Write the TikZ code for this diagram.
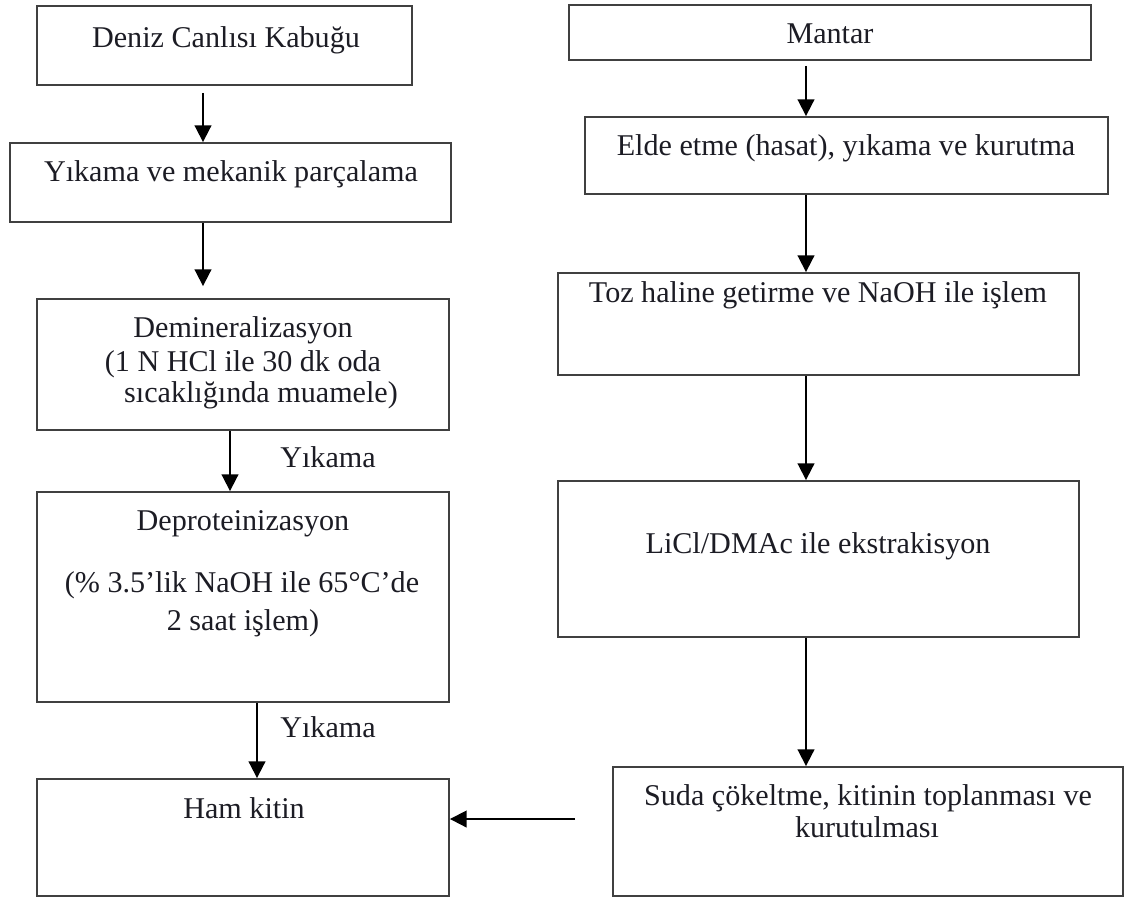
\documentclass[tikz,border=0pt]{standalone}
\usepackage{fontspec}
\setmainfont{Liberation Serif}
\usetikzlibrary{arrows.meta,fit}
\definecolor{edge}{RGB}{64,64,64}
\definecolor{ink}{RGB}{28,28,36}
\begin{document}
\begin{tikzpicture}[x=0.75pt,y=-0.75pt,
  box/.style={draw=edge,line width=1.4pt,inner sep=0pt,fit={#1}},
  txt/.style={anchor=base,inner sep=0pt,text=ink,font=\fontsize{22.6}{26}\selectfont},
  arr/.style={draw=black,line width=1.4pt,-{Triangle[width=12.5pt,length=12.5pt]}}]
\useasboundingbox (0,0) rectangle (1130,897);
% left column boxes
\node[box={(37,6) (412,85)}] (b1) {};
\node[box={(10,143) (451,222)}] (b2) {};
\node[box={(37,299) (449,430)}] (b3) {};
\node[box={(37,492) (449,702)}] (b4) {};
\node[box={(37,779) (449,896)}] (b5) {};
% right column boxes
\node[box={(569,5) (1091,60)}] (r1) {};
\node[box={(585,117) (1108,194)}] (r2) {};
\node[box={(558,273) (1079,375)}] (r3) {};
\node[box={(558,481) (1079,637)}] (r4) {};
\node[box={(613,767) (1123,896)}] (r5) {};
% texts
\node[txt] (t1) at (226,47) {Deniz Canlısı Kabuğu};
\node[txt] (t2) at (231,181) {Yıkama ve mekanik parçalama};
\node[txt] (t3a) at (243,337) {Demineralizasyon};
\node[txt] (t3b) at (243,371) {(1 N HCl ile 30 dk oda};
\node[txt] (t3c) at (261,402) {sıcaklığında muamele)};
\node[txt] (t4a) at (243,530) {Deproteinizasyon};
\node[txt] (t4b) at (242,592) {(\% 3.5’lik NaOH ile 65°C’de};
\node[txt] (t4c) at (243,630) {2 saat işlem)};
\node[txt] (t5) at (244,818) {Ham kitin};
\node[txt] (y1) at (328,467) {Yıkama};
\node[txt] (y2) at (328,737) {Yıkama};
\node[txt] (s1) at (830,43) {Mantar};
\node[txt] (s2) at (846,155) {Elde etme (hasat), yıkama ve kurutma};
\node[txt] (s3) at (818,302) {Toz haline getirme ve NaOH ile işlem};
\node[txt] (s4) at (818,553) {LiCl/DMAc ile ekstrakisyon};
\node[txt] (s5a) at (868,805) {Suda çökeltme, kitinin toplanması ve};
\node[txt] (s5b) at (867,837) {kurutulması};
% arrow columns
\coordinate (ca) at (203,0);
\coordinate (cb) at (230,0);
\coordinate (cc) at (257,0);
\coordinate (cr) at (806,0);
\coordinate (hfree) at (575,819);
\draw[arr,shorten <=5.25pt] (b1.south -| ca) -- (b2.north -| ca);
\draw[arr,shorten >=9pt] (b2.south -| ca) -- (b3.north -| ca);
\draw[arr] (b3.south -| cb) -- (b4.north -| cb);
\draw[arr] (b4.south -| cc) -- (b5.north -| cc);
\draw[arr,shorten <=3.75pt] (r1.south -| cr) -- (r2.north -| cr);
\draw[arr] (r2.south -| cr) -- (r3.north -| cr);
\draw[arr] (r3.south -| cr) -- (r4.north -| cr);
\draw[arr] (r4.south -| cr) -- (r5.north -| cr);
\draw[arr] (hfree) -- (hfree -| b5.east);
\end{tikzpicture}
\end{document}
